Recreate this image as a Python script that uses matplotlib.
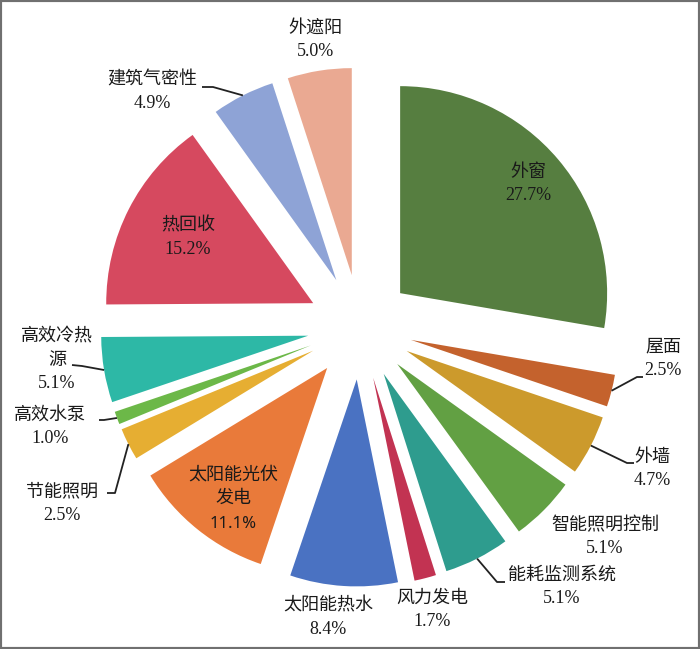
import matplotlib.pyplot as plt
import numpy as np
from matplotlib.patches import Rectangle

# data
labels = ['外窗', '屋面', '外墙', '智能照明控制', '能耗监测系统', '风力发电', '太阳能热水',
          '太阳能光伏\n发电', '节能照明', '高效水泵', '高效冷热\n源', '热回收', '建筑气密性', '外遮阳']
values = [27.7, 2.5, 4.7, 5.1, 5.1, 1.7, 8.4, 11.1, 2.5, 1.0, 5.1, 15.2, 4.9, 5.0]
colors = ['#567e40', '#c4622d', '#cc9a2c', '#62a043', '#2e9c8e', '#c23352', '#4a72c2',
          '#e97a3a', '#e6ae32', '#6cb848', '#2db8a6', '#d6495f', '#8ea3d6', '#eaa992']

# layout (pixel units, y up)
label_pos = [(528, 465), (663, 290), (652, 180), (605, 112), (562, 62), (432, 39), (328, 31),
             (233, 150), (62, 145), (50, 222), (57, 289), (188, 411), (152, 557), (315, 609)]
# leader lines: index -> (elbow, end)
leaders = {
    12: ((213, 562), (202, 562)),
    1: ((637, 272), (643, 272)),
    2: ((627, 186), (634, 186)),
    4: ((497, 67), (505, 67)),
    8: ((115, 156), (107, 156)),
    9: ((104, 229), (99, 229)),
    10: ((82, 283), (72, 284)),
}

plt.rcParams['font.family'] = ['Liberation Serif', 'Noto Sans CJK SC']

fig = plt.figure(figsize=(7, 6.49), dpi=100)
ax = fig.add_axes([0, 0, 1, 1])

# explode is in data units (pixels here)
wedges, _ = ax.pie(values, explode=[52.5] * len(values), radius=207, center=(360, 322),
                   startangle=90, counterclock=False, colors=colors, frame=False,
                   wedgeprops=dict(linewidth=0))
ax.set_xlim(0, 700)
ax.set_ylim(0, 649)
ax.set_aspect('equal')
ax.axis('off')

for i, (lab, v) in enumerate(zip(labels, values)):
    x, y = label_pos[i]
    if i == 7:
        ax.text(x, y + 12, lab, ha='center', va='center', fontsize=13, color='#1a1a1a',
                linespacing=1.5)
        ax.text(x, y - 25, '%.1f%%' % v, ha='center', va='center', fontsize=12,
                color='#1a1a1a', family=['Noto Sans', 'DejaVu Sans'], weight='medium')
    else:
        ax.text(x, y, lab + '\n%.1f%%' % v, ha='center', va='center', fontsize=13,
                color='#1a1a1a', linespacing=1.5)

for i, (elbow, end) in leaders.items():
    w = wedges[i]
    th = np.radians((w.theta1 + w.theta2) / 2)
    cx, cy = w.center
    px, py = cx + w.r * np.cos(th), cy + w.r * np.sin(th)
    ax.plot([px, elbow[0], end[0]], [py, elbow[1], end[1]], color='#222222', lw=1.3,
            solid_capstyle='butt')

fig.patches.append(Rectangle((0, 0), 1, 1, transform=fig.transFigure, fill=False,
                             edgecolor='#707070', linewidth=3))

fig.savefig('out.png', dpi=100)
